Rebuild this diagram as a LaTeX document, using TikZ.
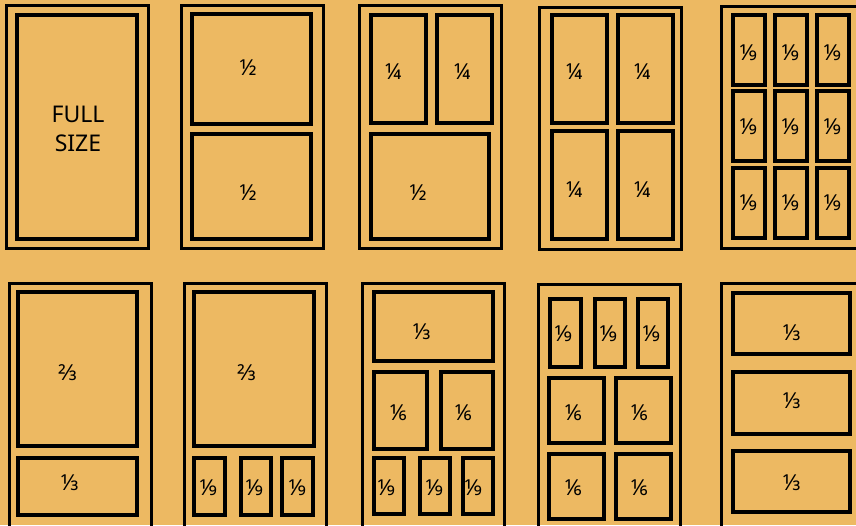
\documentclass[tikz,border=0pt]{standalone}
\usepackage{fontspec}
\setmainfont{Noto Sans}
\definecolor{bg}{RGB}{237,185,98}
\tikzset{
  frame/.style={draw=black, line width=3pt},
  cell/.style={draw=black, line width=3.3pt},
  lab/.style={font=\fontsize{22}{24}\selectfont, inner sep=0pt, text=black},
}
\begin{document}
\begin{tikzpicture}[x=1pt, y=-1pt]
\fill[bg] (0,0) rectangle (856,525);
\useasboundingbox (0,0) rectangle (856,525);
\clip (0,0) rectangle (856,525);
% ---------- top row ----------
% panel 1
\draw[frame] (6,5) rectangle (148,248);
\draw[cell] (17,15) rectangle (137,239);
\node[lab, align=center, font=\fontsize{23}{29}\selectfont] (full) at (78,129) {FULL\\SIZE};
% panel 2
\draw[frame] (181,5) rectangle (323,248);
\draw[cell] (192,14) rectangle (311,124);
\draw[cell] (192,134) rectangle (311,239);
\node[lab] (p2a) at (248,68) {½};
\node[lab] (p2b) at (248,193) {½};
% panel 3
\draw[frame] (359,5) rectangle (501,248);
\draw[cell] (371,15) rectangle (426,123);
\draw[cell] (437,15) rectangle (492,123);
\draw[cell] (371,134) rectangle (489,239);
\node[lab] (p3a) at (393,72) {¼};
\node[lab] (p3b) at (462,72) {¼};
\node[lab] (p3c) at (418,193) {½};
% panel 4
\draw[frame] (539,7) rectangle (681,249);
\draw[cell] (552,15) rectangle (607,123);
\draw[cell] (618,15) rectangle (673,123);
\draw[cell] (552,131) rectangle (607,239);
\draw[cell] (618,131) rectangle (673,239);
\node[lab] (p4a) at (574,72) {¼};
\node[lab] (p4b) at (642,72) {¼};
\node[lab] (p4c) at (574,190) {¼};
\node[lab] (p4d) at (642,190) {¼};
% panel 5
\draw[frame] (721,6) rectangle (870,248);
\foreach \xa/\xb/\xl [count=\i] in {733/765/748, 775/807/790, 817/849/832}{
  \foreach \ya/\yb/\yl [count=\j] in {15/85/53, 91/161/127, 168/238/203}{
    \draw[cell] (\xa,\ya) rectangle (\xb,\yb);
    \node[lab] (p5-\i-\j) at (\xl,\yl) {⅑};
  }
}
% ---------- bottom row ----------
% panel 6
\draw[frame] (9,283) rectangle (151,540);
\draw[cell] (18,292) rectangle (137,446);
\draw[cell] (18,458) rectangle (137,515);
\node[lab] (p6a) at (68,373) {⅔};
\node[lab] (p6b) at (70,483) {⅓};
% panel 7
\draw[frame] (184,283) rectangle (326,540);
\draw[cell] (194,292) rectangle (314,446);
\draw[cell] (194,458) rectangle (225,515);
\draw[cell] (241,458) rectangle (271,515);
\draw[cell] (282,458) rectangle (313,515);
\node[lab] (p7a) at (247,373) {⅔};
\node[lab] (p7b) at (208,488) {⅑};
\node[lab] (p7c) at (254,488) {⅑};
\node[lab] (p7d) at (297,488) {⅑};
% panel 8
\draw[frame] (362,283) rectangle (504,540);
\draw[cell] (374,292) rectangle (493,361);
\draw[cell] (374,372) rectangle (427,449);
\draw[cell] (441,372) rectangle (493,449);
\draw[cell] (374,458) rectangle (404,514);
\draw[cell] (420,458) rectangle (450,514);
\draw[cell] (463,458) rectangle (493,514);
\node[lab] (p8a) at (422,332) {⅓};
\node[lab] (p8b) at (398,413) {⅙};
\node[lab] (p8c) at (463,413) {⅙};
\node[lab] (p8d) at (386,488) {⅑};
\node[lab] (p8e) at (434,488) {⅑};
\node[lab] (p8f) at (473,488) {⅑};
% panel 9
\draw[frame] (538,284) rectangle (680,540);
\draw[cell] (550,299) rectangle (581,367);
\draw[cell] (595,299) rectangle (625,367);
\draw[cell] (638,299) rectangle (668,367);
\draw[cell] (549,378) rectangle (604,443);
\draw[cell] (616,378) rectangle (671,443);
\draw[cell] (549,454) rectangle (604,519);
\draw[cell] (616,454) rectangle (671,519);
\node[lab] (p9a) at (563,334) {⅑};
\node[lab] (p9b) at (608,334) {⅑};
\node[lab] (p9c) at (651,334) {⅑};
\node[lab] (p9d) at (573,413) {⅙};
\node[lab] (p9e) at (639,413) {⅙};
\node[lab] (p9f) at (573,488) {⅙};
\node[lab] (p9g) at (639,488) {⅙};
% panel 10
\draw[frame] (721,283) rectangle (870,540);
\draw[cell] (733,293) rectangle (850,354);
\draw[cell] (733,372) rectangle (850,434);
\draw[cell] (733,451) rectangle (850,512);
\node[lab] (p10a) at (792,333) {⅓};
\node[lab] (p10b) at (792,401) {⅓};
\node[lab] (p10c) at (792,483) {⅓};
\end{tikzpicture}
\end{document}
